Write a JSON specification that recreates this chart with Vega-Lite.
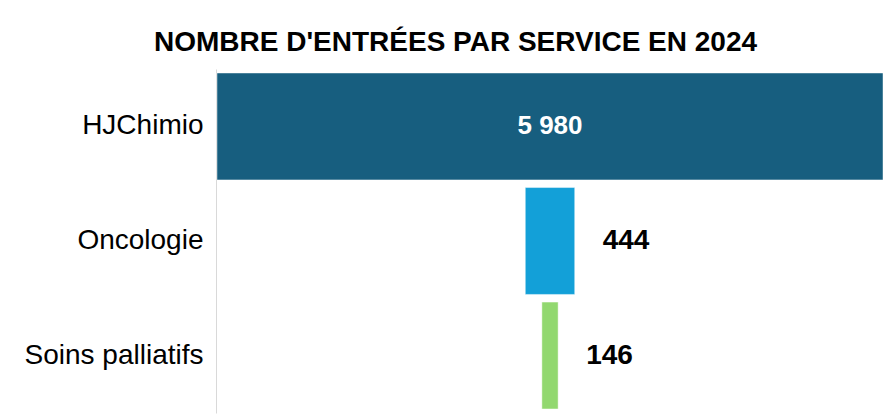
{
  "$schema": "https://vega.github.io/schema/vega-lite/v6.json",
  "autosize": "none",
  "width": 667,
  "height": 344,
  "padding": {"left": 216, "top": 69, "right": 3, "bottom": 5},
  "background": "#ffffff",
  "title": {
    "text": "NOMBRE D'ENTRÉES PAR SERVICE EN 2024",
    "font": "Liberation Sans",
    "fontSize": 28,
    "fontWeight": "bold",
    "color": "#000000",
    "anchor": "middle",
    "dx": -94,
    "dy": 27,
    "baseline": "alphabetic",
    "offset": 17
  },
  "data": {
    "values": [
      {"service": "HJChimio", "value": 5980},
      {"service": "Oncologie", "value": 444},
      {"service": "Soins palliatifs", "value": 146}
    ]
  },
  "transform": [
    {"stack": "value", "groupby": ["service"], "offset": "center", "as": ["v0", "v1"]}
  ],
  "encoding": {
    "y": {
      "field": "service",
      "type": "nominal",
      "sort": ["HJChimio", "Oncologie", "Soins palliatifs"],
      "scale": {"paddingInner": 0.067, "paddingOuter": 0.035},
      "axis": {
        "title": null,
        "ticks": false,
        "domainColor": "#d9d9d9",
        "domainWidth": 1,
        "labelFont": "Liberation Sans",
        "labelFontSize": 28,
        "labelColor": "#000000",
        "labelPadding": 13,
        "labelLimit": 300
      }
    }
  },
  "layer": [
    {
      "mark": {"type": "bar", "stroke": "#ffffff", "strokeOpacity": 0.45, "strokeWidth": 1},
      "encoding": {
        "x": {"field": "v0", "type": "quantitative", "scale": {"domain": [-9, 5980], "nice": false, "zero": false}, "axis": null},
        "x2": {"field": "v1"},
        "color": {
          "field": "service",
          "type": "nominal",
          "scale": {"domain": ["HJChimio", "Oncologie", "Soins palliatifs"], "range": ["#175e7f", "#13a0d8", "#92d86f"]},
          "legend": null
        }
      }
    },
    {
      "transform": [{"filter": "datum.service !== 'HJChimio'"}],
      "mark": {"type": "text", "align": "left", "baseline": "middle", "dx": 28, "font": "Liberation Sans", "fontSize": 28, "fontWeight": "bold", "color": "#000000"},
      "encoding": {
        "x": {"field": "v1", "type": "quantitative"},
        "text": {"field": "value", "type": "quantitative", "format": ",d"}
      }
    },
    {
      "transform": [{"filter": "datum.service === 'HJChimio'"}],
      "mark": {"type": "text", "align": "center", "baseline": "middle", "font": "Liberation Sans", "fontSize": 26, "fontWeight": "bold", "color": "#ffffff"},
      "encoding": {
        "x": {"datum": 2990, "type": "quantitative"},
        "text": {"field": "value", "type": "quantitative", "format": ",d"}
      }
    }
  ],
  "config": {
    "view": {"stroke": null},
    "locale": {"number": {"decimal": ",", "thousands": " ", "grouping": [3], "currency": ["", " €"]}}
  }
}
